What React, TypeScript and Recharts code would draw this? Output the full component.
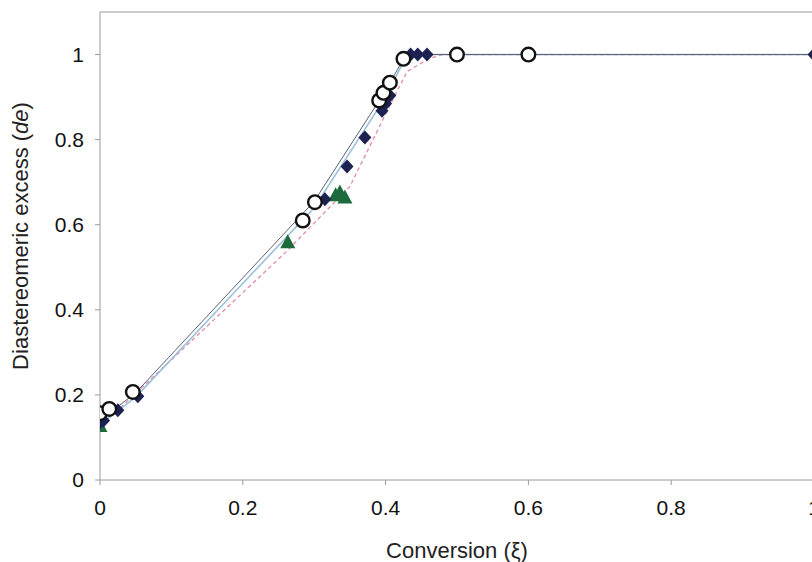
import React from "react";
import {
  ComposedChart,
  Label,
  ReferenceLine,
  Scatter,
  XAxis,
  YAxis,
} from "recharts";

// measured points
const diamondX = [0, 0.005, 0.025, 0.053, 0.315, 0.346, 0.371, 0.395, 0.4, 0.406, 0.435, 0.445, 0.458, 1.0];
const diamondY = [0.135, 0.14, 0.164, 0.197, 0.66, 0.737, 0.805, 0.868, 0.885, 0.904, 1, 1, 1, 1];

const circleX = [0, 0.013, 0.046, 0.284, 0.301, 0.391, 0.397, 0.406, 0.425, 0.5, 0.6];
const circleY = [0.157, 0.167, 0.207, 0.61, 0.653, 0.892, 0.91, 0.934, 0.99, 1, 1];

const triangleX = [0, 0.263, 0.33, 0.336, 0.343];
const triangleY = [0.127, 0.559, 0.669, 0.676, 0.664];

// model curves
const darkLineX = [0, 0.05, 0.3, 0.4, 0.425, 0.44, 1];
const darkLineY = [0.14, 0.205, 0.655, 0.915, 0.99, 1, 1];

const blueLineX = [0, 0.05, 0.3, 0.4, 0.43, 1];
const blueLineY = [0.13, 0.195, 0.64, 0.9, 1, 1];

const pinkLineX = [0, 0.26, 0.35, 0.4, 0.43, 0.46, 0.48, 1];
const pinkLineY = [0.125, 0.535, 0.69, 0.86, 0.96, 0.99, 1, 1];

const xTicks = [0, 0.2, 0.4, 0.6, 0.8, 1];
const yTicks = [0, 0.2, 0.4, 0.6, 0.8, 1];

const zip = (xs: number[], ys: number[]) => xs.map((x, i) => ({ x, y: ys[i] }));

const font = "'Liberation Sans', Arial, sans-serif";
const tickStyle = { fill: "#111", fontSize: 21, fontFamily: font };

const Diamond = (p: any) => (
  <polygon
    points={`${p.cx},${p.cy - 7} ${p.cx + 6.5},${p.cy} ${p.cx},${p.cy + 7} ${p.cx - 6.5},${p.cy}`}
    fill="#1c2152"
  />
);

const Circle = (p: any) => (
  <circle cx={p.cx} cy={p.cy} r={6.8} fill="#fff" stroke="#111" strokeWidth={2.4} />
);

const Triangle = (p: any) => (
  <polygon
    points={`${p.cx},${p.cy - 8} ${p.cx + 7.5},${p.cy + 6} ${p.cx - 7.5},${p.cy + 6}`}
    fill="#1d6b3c"
  />
);

const Nothing = () => null;

const YTitle = () => {
  const cx = 20;
  const cy = 236;
  return (
    <text
      x={cx}
      y={cy}
      transform={`rotate(-90, ${cx}, ${cy})`}
      textAnchor="middle"
      dominantBaseline="central"
      fontSize={22}
      fontFamily={font}
      fill="#222"
    >
      Diastereomeric excess (<tspan fontStyle="italic">de</tspan>)
    </text>
  );
};

export default function App() {
  return (
    <div
      style={{
        position: "fixed",
        left: 0,
        top: 0,
        width: 812,
        height: 562,
        overflow: "hidden",
        background: "#fff",
      }}
    >
      <ComposedChart
        width={830}
        height={562}
        margin={{ top: 12, right: 16, bottom: 0, left: 0 }}
      >
        <XAxis
          type="number"
          dataKey="x"
          domain={[0, 1]}
          ticks={xTicks}
          tickFormatter={(v: number) => String(v)}
          allowDataOverflow
          height={82}
          stroke="#9a9a9a"
          tick={tickStyle}
          tickSize={5}
          tickMargin={15}
        >
          <Label
            value="Conversion (ξ)"
            position="insideBottom"
            offset={4}
            style={{ fontSize: 22, fontFamily: font, fill: "#222" }}
          />
        </XAxis>
        <YAxis
          type="number"
          dataKey="y"
          domain={[0, 1.1]}
          ticks={yTicks}
          tickFormatter={(v: number) => String(v)}
          allowDataOverflow
          width={100}
          stroke="#9a9a9a"
          tick={tickStyle}
          tickSize={5}
          tickMargin={11}
        >
          <Label content={<YTitle />} />
        </YAxis>
        <ReferenceLine y={1.1} stroke="#9a9a9a" />
        <Scatter
          data={zip(pinkLineX, pinkLineY)}
          line={{ stroke: "#e58aa6", strokeWidth: 1.3, strokeDasharray: "4 3" }}
          shape={Nothing}
          isAnimationActive={false}
        />
        <Scatter
          data={zip(blueLineX, blueLineY)}
          line={{ stroke: "#9cc0da", strokeWidth: 1.6 }}
          shape={Nothing}
          isAnimationActive={false}
        />
        <Scatter
          data={zip(darkLineX, darkLineY)}
          line={{ stroke: "#5c6272", strokeWidth: 1 }}
          shape={Nothing}
          isAnimationActive={false}
        />
        <Scatter
          data={zip(triangleX, triangleY)}
          shape={Triangle}
          isAnimationActive={false}
        />
        <Scatter
          data={zip(diamondX, diamondY)}
          shape={Diamond}
          isAnimationActive={false}
        />
        <Scatter
          data={zip(circleX, circleY)}
          shape={Circle}
          isAnimationActive={false}
        />
      </ComposedChart>
    </div>
  );
}
